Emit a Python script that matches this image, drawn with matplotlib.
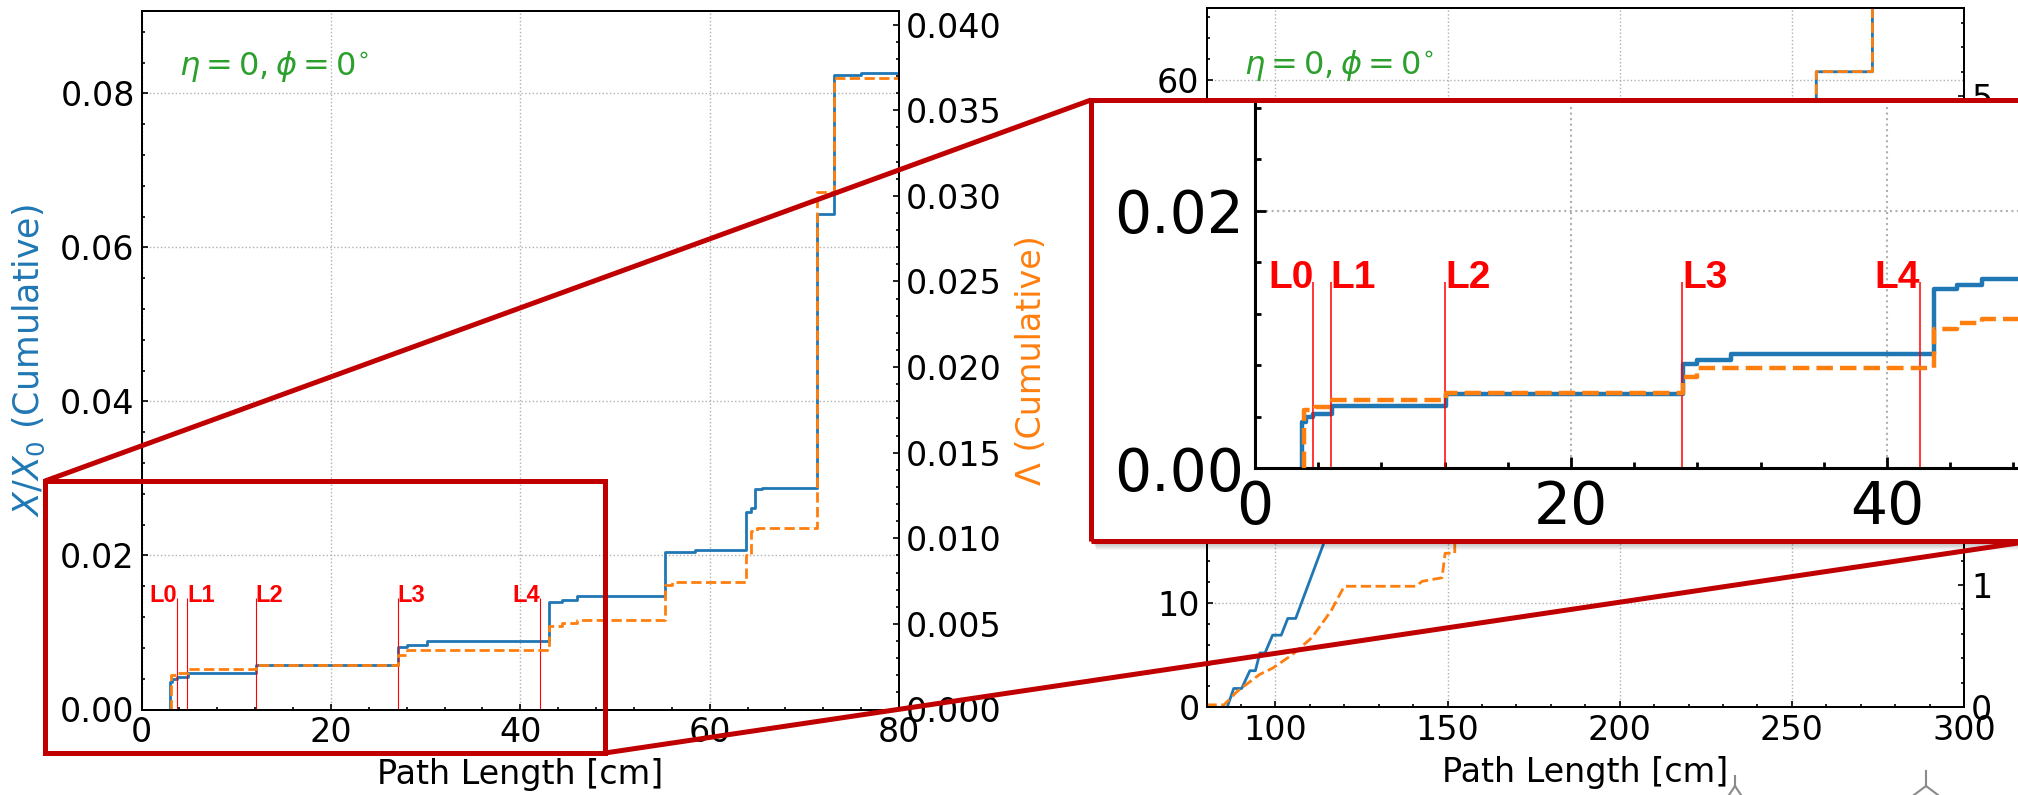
import numpy as np
import matplotlib.pyplot as plt
from matplotlib.ticker import AutoMinorLocator, FormatStrFormatter
from matplotlib.patches import Rectangle
from matplotlib.lines import Line2D

# ---- data: inner region (0-80 cm) ----
pos_x0 = [3.0, 3.0, 3.25, 3.7, 4.9, 12.1, 27.1, 28.0, 30.1, 43.0, 44.4, 46.0,
          55.3, 58.5, 63.8, 64.4, 64.8, 65.5, 71.3, 73.1, 76.0, 80.0]
xx0 = [0.0, 0.0036, 0.0040, 0.0042, 0.0048, 0.0058, 0.0081, 0.0084, 0.0089, 0.0139, 0.0142, 0.0147,
       0.0205, 0.0207, 0.0256, 0.0262, 0.0286, 0.0288, 0.0644, 0.0824, 0.0826, 0.0826]

pos_lam = [3.1, 3.1, 3.8, 4.9, 12.1, 27.1, 28.0, 43.0, 44.4, 46.0, 55.3, 56.0,
           63.8, 64.4, 65.0, 71.3, 73.1, 80.0]
lam = [0.0, 0.00204, 0.00214, 0.00237, 0.00262, 0.0032, 0.0035, 0.00485, 0.00508, 0.00523, 0.00727, 0.00745,
       0.0090, 0.0104, 0.0106, 0.0302, 0.0369, 0.0371]

layer_names = ['L0', 'L1', 'L2', 'L3', 'L4']
layer_pos = [3.7, 4.8, 12.05, 27.05, 42.1]
layer_ha = ['right', 'left', 'left', 'left', 'right']

# ---- data: outer region (80-300 cm) ----
far_x = [80, 86.0, 87.9, 90.2, 92.6, 94.2, 95.5, 97.0, 99.2, 101.7, 103.6, 105.9, 114.4,
         125, 150, 180, 210, 240, 257.1, 257.1, 273.4, 273.4]
far_xx0 = [0, 0, 1.8, 1.8, 3.5, 3.5, 5.2, 5.2, 6.9, 6.9, 8.5, 8.5, 16.0,
           22, 30, 38, 45, 52, 55, 60.8, 60.8, 80]

far_lam_x = [80, 85.1, 88.9, 91.7, 95.5, 99.2, 104.9, 110.6, 116.2, 120.0, 140.8, 142.6, 148.4,
             149.3, 152.1, 152.1, 180, 220, 257.1, 257.1, 273.4, 273.4]
far_lam = [0.02, 0.02, 0.13, 0.19, 0.27, 0.32, 0.43, 0.57, 0.79, 0.99, 0.99, 1.03, 1.06,
           1.26, 1.26, 2.0, 2.8, 3.8, 4.7, 5.2, 5.2, 7.0]

W, H = 2018, 795
fig = plt.figure(figsize=(W / 100, H / 100), dpi=100)

def box(l, t, r, b):
    return [l / W, 1 - b / H, (r - l) / W, (b - t) / H]

def px(x, y):
    return x / W, 1 - y / H

blue = '#1f77b4'
orange = '#ff7f0e'
dred = '#c00000'
gridkw = dict(ls=':', color='#b0b0b0', lw=1)

def style(ax, size=24, major=4, minor=2.5, width=1.2, pad=5):
    ax.tick_params(which='both', direction='in', top=False, labelsize=size, width=width, pad=pad)
    ax.tick_params(which='major', length=major)
    ax.tick_params(which='minor', length=minor)
    ax.xaxis.set_minor_locator(AutoMinorLocator(5))
    ax.yaxis.set_minor_locator(AutoMinorLocator(5))
    for s in ax.spines.values():
        s.set_linewidth(1.4)

# ---- left plot ----
ax1 = fig.add_axes(box(141.6, 11, 899, 709.5))
ax1.step(pos_x0, xx0, where='post', color=blue, lw=2)
ax1.set_xlim(0, 80)
ax1.set_ylim(0, 0.0907)
ax1.set_xticks([0, 20, 40, 60, 80])
ax1.set_yticks([0, 0.02, 0.04, 0.06, 0.08])
ax1.yaxis.set_major_formatter(FormatStrFormatter('%.2f'))
style(ax1)
ax1.tick_params(right=False)
ax1.grid(True, **gridkw)
ax1.set_xlabel('Path Length [cm]', fontsize=24, labelpad=6)
ax1.set_ylabel(r'$X/X_0$ (Cumulative)', color=blue, fontsize=25)
ax1.yaxis.set_label_coords(-0.125, 0.5)
ax1.text(0.05, 0.92, r'$\eta = 0, \phi = 0^{\circ}$', transform=ax1.transAxes,
         color='#2ca02c', fontsize=23, va='center')
for name, xp, ha in zip(layer_names, layer_pos, layer_ha):
    ax1.vlines(xp, 0, 0.0145, color='red', lw=0.8)
    ax1.text(xp, 0.0140, name, color='red', ha=ha, va='baseline', fontsize=17,
             fontweight='bold', family='Liberation Sans')

ax1b = ax1.twinx()
ax1b.step(pos_lam, lam, where='post', color=orange, ls='--', lw=2)
ax1b.set_ylim(0, 0.0408)
ax1b.set_yticks(np.arange(0, 0.0401, 0.005))
ax1b.yaxis.set_major_formatter(FormatStrFormatter('%.3f'))
style(ax1b)
ax1b.set_ylabel('Λ (Cumulative)', color=orange, fontsize=24)
ax1b.yaxis.set_label_coords(1.153, 0.5)

# ---- right plot ----
ax2 = fig.add_axes(box(1206.5, 8, 1964, 707.3))
ax2.plot(far_x, far_xx0, color=blue, lw=2)
ax2.set_xlim(80, 300)
ax2.set_ylim(0, 66.9)
ax2.set_xticks([100, 150, 200, 250, 300])
ax2.set_yticks([0, 10, 20, 30, 40, 50, 60])
style(ax2)
ax2.tick_params(right=False)
ax2.grid(True, **gridkw)
ax2.set_xlabel('Path Length [cm]', fontsize=24, labelpad=6)
ax2.text(0.05, 0.918, r'$\eta = 0, \phi = 0^{\circ}$', transform=ax2.transAxes,
         color='#2ca02c', fontsize=23, va='center')

ax2b = ax2.twinx()
ax2b.plot(far_lam_x, far_lam, color=orange, ls='--', lw=2)
ax2b.set_ylim(0, 5.72)
ax2b.set_yticks([0, 1, 2, 3, 4, 5])
style(ax2b)

# ---- inset (zoom of 0-48 cm) ----
for i in range(1, 10):
    fig.add_artist(Rectangle(px(1091 + i * 0.6, 541 + i), (2040 - 1091) / W, 441 / H,
                             transform=fig.transFigure, facecolor='black', alpha=0.035,
                             edgecolor='none', zorder=0.9))
fig.add_artist(Rectangle(px(1091, 541), (2040 - 1091) / W, 441 / H, transform=fig.transFigure,
                         facecolor='white', edgecolor='none', zorder=1))

ax3 = fig.add_axes(box(1255, 104, 2018, 468.3), zorder=2)
ax3.patch.set_visible(False)
ax3.step(pos_x0, xx0, where='post', color=blue, lw=3.2)
top3 = 0.02829
ax3.set_xlim(0, 48.29)
ax3.set_ylim(0, top3)
ax3.set_xticks([0, 20, 40])
ax3.set_yticks([0, 0.02])
ax3.yaxis.set_major_formatter(FormatStrFormatter('%.2f'))
style(ax3, size=42, major=8, minor=4, width=2, pad=8)
ax3.tick_params(right=False)
for s in ax3.spines.values():
    s.set_linewidth(2.2)
ax3.spines['top'].set_visible(False)
ax3.spines['right'].set_visible(False)
ax3.grid(True, ls=':', color='#b0b0b0', lw=1.5)
for name, xp, ha in zip(layer_names, layer_pos, layer_ha):
    ax3.vlines(xp, 0, 0.0145, color='red', lw=1.1)
    ax3.text(xp, 0.0140, name, color='red', ha=ha, va='baseline', fontsize=28,
             fontweight='bold', family='Liberation Sans')

ax3b = ax3.twinx()
ax3b.set_zorder(2.1)
ax3b.step(pos_lam, lam, where='post', color=orange, ls='--', lw=3.2)
ax3b.set_ylim(0, top3 * 0.0408 / 0.0907)
ax3b.axis('off')

# ---- zoom frame and connectors ----
fig.add_artist(Rectangle(px(1091, 541), (2060 - 1091) / W, 441 / H, transform=fig.transFigure,
                         facecolor='none', edgecolor=dred, lw=3.6, zorder=3))
fig.add_artist(Rectangle(px(45, 753), (605 - 45) / W, (753 - 481) / H, transform=fig.transFigure,
                         facecolor='none', edgecolor=dred, lw=3.6, zorder=3))
for (xa, ya), (xb, yb) in [((45, 481), (1091, 100)), ((605, 753), (2018, 543))]:
    p0, p1 = px(xa, ya), px(xb, yb)
    fig.add_artist(Line2D([p0[0], p1[0]], [p0[1], p1[1]], transform=fig.transFigure,
                          color=dred, lw=3.6, zorder=3, solid_capstyle='butt'))

# small grey glyphs at the bottom edge
for seg in [[(1735, 776), (1735, 786)], [(1735, 786), (1729, 795)], [(1735, 786), (1741, 795)],
            [(1926, 771), (1926, 786)], [(1926, 786), (1914, 795)], [(1926, 786), (1938, 795)]]:
    a, b = px(*seg[0]), px(*seg[1])
    fig.add_artist(Line2D([a[0], b[0]], [a[1], b[1]], transform=fig.transFigure,
                          color='#8a8a8a', lw=1.5, zorder=3))

fig.savefig('out.png', dpi=100)
